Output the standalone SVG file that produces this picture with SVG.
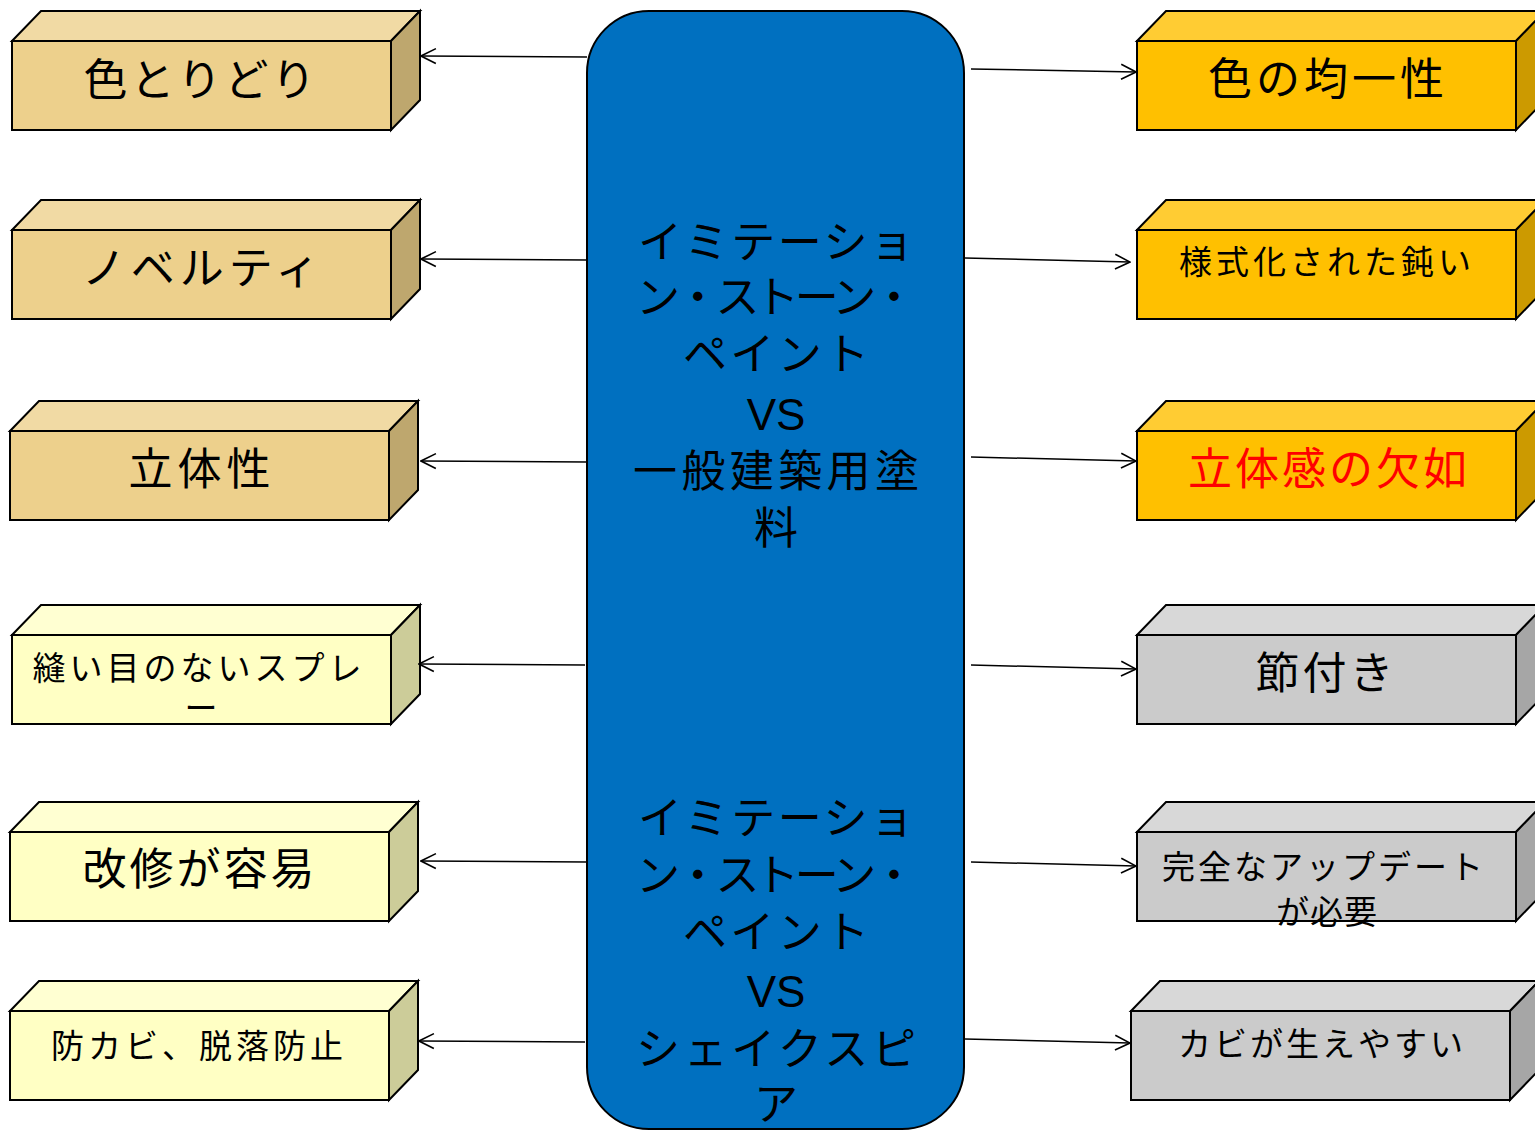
<svg xmlns="http://www.w3.org/2000/svg" width="1535" height="1130" viewBox="0 0 1535 1130">
<defs>
<style>
.t{font-family:"Noto Sans CJK JP","Liberation Serif",serif;fill:#000;text-anchor:middle}
.big{font-size:44px}
.sm{font-size:33px}
.vs{font-family:"Liberation Sans",Arial,sans-serif;font-size:44px;text-anchor:middle}
.edge{stroke:#000;stroke-width:2;stroke-linejoin:miter}
.tan .f{fill:#EDD08C}.tan .tp{fill:#F1DAA4}.tan .sd{fill:#BEA76E}
.lem .f{fill:#FFFFC4}.lem .tp{fill:#FFFFD2}.lem .sd{fill:#CCCC99}
.gold .f{fill:#FFC000}.gold .tp{fill:#FFCC33}.gold .sd{fill:#CC9A00}
.gray .f{fill:#CBCBCB}.gray .tp{fill:#D8D8D8}.gray .sd{fill:#A6A6A6}
.cn{stroke:#000;stroke-width:1.5;fill:none;marker-end:url(#ah)}
</style>
<marker id="ah" viewBox="0 0 16 16" refX="15" refY="8" markerWidth="17" markerHeight="17" markerUnits="userSpaceOnUse" orient="auto">
<path d="M1,1 L15,8 L1,15" fill="none" stroke="#000" stroke-width="1.5"/>
</marker>
</defs>
<rect width="1535" height="1130" fill="#fff"/>

<g id="center">
<rect x="587" y="11" width="377" height="1118" rx="62" ry="62" fill="#0070C0" stroke="#000" stroke-width="2"/>
<text class="t big" x="776" y="258" textLength="276" lengthAdjust="spacing">イミテーショ</text>
<text class="t big" x="776" y="313" textLength="280" lengthAdjust="spacing">ン・ストーン・</text>
<text class="t big" x="776" y="370" textLength="186" lengthAdjust="spacing">ペイント</text>
<text class="vs" x="776" y="430">VS</text>
<text class="t big" x="776" y="487" textLength="286" lengthAdjust="spacing">一般建築用塗</text>
<text class="t big" x="776" y="544">料</text>
<text class="t big" x="776" y="834" textLength="276" lengthAdjust="spacing">イミテーショ</text>
<text class="t big" x="776" y="891" textLength="280" lengthAdjust="spacing">ン・ストーン・</text>
<text class="t big" x="776" y="948" textLength="186" lengthAdjust="spacing">ペイント</text>
<text class="vs" x="776" y="1007">VS</text>
<text class="t big" x="776" y="1065" textLength="280" lengthAdjust="spacing">シェイクスピ</text>
<text class="t big" x="776" y="1120">ア</text>
</g>

<g id="l1" class="tan">
<polygon class="tp edge" points="12,41 41,11 420,11 391,41"/>
<polygon class="sd edge" points="391,41 420,11 420,100 391,130"/>
<rect class="f edge" x="12" y="41" width="379" height="89"/>
<text class="t big" x="201" y="96" style="letter-spacing:3px">色とりどり</text>
</g>
<g id="l2" class="tan">
<polygon class="tp edge" points="12,230 41,200 420,200 391,230"/>
<polygon class="sd edge" points="391,230 420,200 420,289 391,319"/>
<rect class="f edge" x="12" y="230" width="379" height="89"/>
<text class="t big" x="203" y="284" style="letter-spacing:5px">ノベルティ</text>
</g>
<g id="l3" class="tan">
<polygon class="tp edge" points="10,431 39,401 418,401 389,431"/>
<polygon class="sd edge" points="389,431 418,401 418,490 389,520"/>
<rect class="f edge" x="10" y="431" width="379" height="89"/>
<text class="t big" x="202" y="485" style="letter-spacing:5px">立体性</text>
</g>
<g id="l4" class="lem">
<polygon class="tp edge" points="12,635 41,605 420,605 391,635"/>
<polygon class="sd edge" points="391,635 420,605 420,694 391,724"/>
<rect class="f edge" x="12" y="635" width="379" height="89"/>
<text class="t sm" x="199" y="680" style="letter-spacing:4px">縫い目のないスプレ</text>
<text class="t sm" x="201" y="720">ー</text>
</g>
<g id="l5" class="lem">
<polygon class="tp edge" points="10,832 39,802 418,802 389,832"/>
<polygon class="sd edge" points="389,832 418,802 418,891 389,921"/>
<rect class="f edge" x="10" y="832" width="379" height="89"/>
<text class="t big" x="200" y="885" style="letter-spacing:3px">改修が容易</text>
</g>
<g id="l6" class="lem">
<polygon class="tp edge" points="10,1011 39,981 418,981 389,1011"/>
<polygon class="sd edge" points="389,1011 418,981 418,1070 389,1100"/>
<rect class="f edge" x="10" y="1011" width="379" height="89"/>
<text class="t sm" x="199" y="1058" style="letter-spacing:4px">防カビ、脱落防止</text>
</g>

<g id="r1" class="gold">
<polygon class="tp edge" points="1137,41 1166,11 1545,11 1516,41"/>
<polygon class="sd edge" points="1516,41 1545,11 1545,100 1516,130"/>
<rect class="f edge" x="1137" y="41" width="379" height="89"/>
<text class="t big" x="1328" y="95" style="letter-spacing:4px">色の均一性</text>
</g>
<g id="r2" class="gold">
<polygon class="tp edge" points="1137,230 1166,200 1545,200 1516,230"/>
<polygon class="sd edge" points="1516,230 1545,200 1545,289 1516,319"/>
<rect class="f edge" x="1137" y="230" width="379" height="89"/>
<text class="t sm" x="1327" y="274" style="letter-spacing:4px">様式化された鈍い</text>
</g>
<g id="r3" class="gold">
<polygon class="tp edge" points="1137,431 1166,401 1545,401 1516,431"/>
<polygon class="sd edge" points="1516,431 1545,401 1545,490 1516,520"/>
<rect class="f edge" x="1137" y="431" width="379" height="89"/>
<text class="t big" x="1329" y="485" style="letter-spacing:3px;fill:#FF0000">立体感の欠如</text>
</g>
<g id="r4" class="gray">
<polygon class="tp edge" points="1137,635 1166,605 1545,605 1516,635"/>
<polygon class="sd edge" points="1516,635 1545,605 1545,694 1516,724"/>
<rect class="f edge" x="1137" y="635" width="379" height="89"/>
<text class="t big" x="1326" y="689" style="letter-spacing:3px">節付き</text>
</g>
<g id="r5" class="gray">
<polygon class="tp edge" points="1137,832 1166,802 1545,802 1516,832"/>
<polygon class="sd edge" points="1516,832 1545,802 1545,891 1516,921"/>
<rect class="f edge" x="1137" y="832" width="379" height="89"/>
<text class="t sm" x="1324" y="879" style="letter-spacing:3px">完全なアップデート</text>
<text class="t sm" x="1327" y="924" style="letter-spacing:1px">が必要</text>
</g>
<g id="r6" class="gray">
<polygon class="tp edge" points="1131,1011 1160,981 1539,981 1510,1011"/>
<polygon class="sd edge" points="1510,1011 1539,981 1539,1070 1510,1100"/>
<rect class="f edge" x="1131" y="1011" width="379" height="89"/>
<text class="t sm" x="1322" y="1056" style="letter-spacing:3px">カビが生えやすい</text>
</g>

<g id="connectors">
<line class="cn" x1="587" y1="57" x2="421" y2="56"/>
<line class="cn" x1="587" y1="260" x2="421" y2="259"/>
<line class="cn" x1="587" y1="462" x2="421" y2="461"/>
<line class="cn" x1="585" y1="665" x2="419" y2="664"/>
<line class="cn" x1="587" y1="862" x2="421" y2="861"/>
<line class="cn" x1="585" y1="1042" x2="419" y2="1041"/>
<line class="cn" x1="971" y1="69" x2="1136" y2="72"/>
<line class="cn" x1="965" y1="258" x2="1130" y2="262"/>
<line class="cn" x1="971" y1="457" x2="1136" y2="461"/>
<line class="cn" x1="971" y1="665" x2="1136" y2="669"/>
<line class="cn" x1="971" y1="862" x2="1136" y2="866"/>
<line class="cn" x1="965" y1="1039" x2="1130" y2="1043"/>
</g>
</svg>
